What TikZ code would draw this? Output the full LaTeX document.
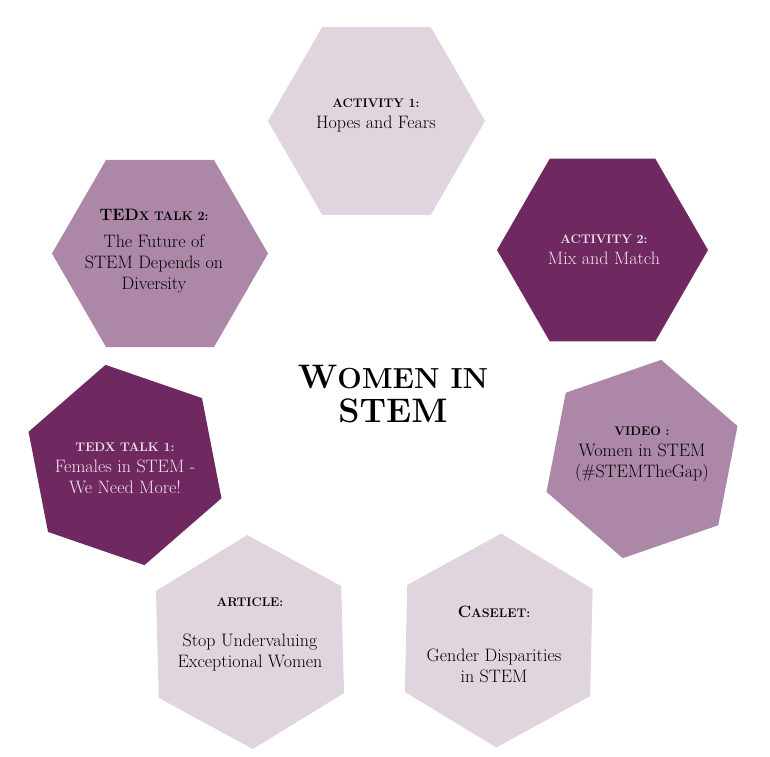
\documentclass[tikz,border=0pt]{standalone}
\usetikzlibrary{calc}
\definecolor{hexlight}{HTML}{E0D4DF}
\definecolor{hexmed}{HTML}{AD87A7}
\definecolor{hexdark}{HTML}{6F2960}
\definecolor{txtdark}{HTML}{000000}
\definecolor{txtlight}{HTML}{F0E4EF}
\newcommand\hexshape[4]{%
  \fill[#4] ($(#1)+(#3:#2pt)$)
    -- ($(#1)+(#3+60:#2pt)$) -- ($(#1)+(#3+120:#2pt)$)
    -- ($(#1)+(#3+180:#2pt)$) -- ($(#1)+(#3+240:#2pt)$)
    -- ($(#1)+(#3+300:#2pt)$) -- cycle;}
\newcommand\lab[1]{{\fontsize{12.5}{21}\selectfont\bfseries #1}}
\newcommand\labbig[1]{{\fontsize{16.5}{21}\selectfont\bfseries #1}}
\tikzset{
  lightfill/.style={fill=hexlight},
  medfill/.style={fill=hexmed},
  darkfill/.style={fill=hexdark},
  hextext/.style={align=center, font=\fontsize{18}{21}\selectfont, text=txtdark, inner sep=0pt},
  hextextlight/.style={hextext, text=txtlight},
  titletext/.style={align=center, inner sep=0pt, text=black, font=\bfseries\fontsize{34}{34}\selectfont}
}
\begin{document}
\begin{tikzpicture}[x=1pt,y=-1pt]
\useasboundingbox[fill=white] (0,0) rectangle (770,756);
\coordinate (h1) at (376.5,121);
\coordinate (h2) at (602.5,250);
\coordinate (h3) at (160,253.5);
\coordinate (h4) at (125,465);
\coordinate (h5) at (642,459);
\coordinate (h6) at (250,642);
\coordinate (h7) at (498.7,640.5);
\hexshape{h1}{108.5}{0}{lightfill}
\hexshape{h2}{105.5}{0}{darkfill}
\hexshape{h3}{108}{0}{medfill}
\hexshape{h4}{102}{-19}{darkfill}
\hexshape{h5}{101}{19}{medfill}
\hexshape{h6}{107}{31.5}{lightfill}
\hexshape{h7}{107}{28.7}{lightfill}

\node[hextext] (t1) at (376,115) {\lab{ACTIVITY 1:}\\Hopes and Fears};
\node[hextextlight] (t2) at (604,250) {\lab{ACTIVITY 2:}\\Mix and Match};
\node[hextext] (t3) at (154,251) {\labbig{TED}\lab{X TALK 2:}\\[6pt]The Future of\\STEM Depends on\\Diversity};
\node[hextextlight] (t4) at (125,468) {\lab{TEDX TALK 1:}\\Females in STEM -\\We Need More!};
\node[hextext] (t5) at (642,454) {\lab{VIDEO :}\\Women in STEM\\(\#STEMTheGap)};
\node[hextext] (t6) at (250,634) {\lab{ARTICLE:}\\[19pt]Stop Undervaluing\\Exceptional Women};
\node[hextext] (t7) at (494,644) {\labbig{C}\lab{ASELET:}\\[23pt]Gender Disparities\\in STEM};
\node[titletext] (title) at (393,394) {W{\fontsize{29}{34}\selectfont OMEN IN}\\STEM};
\end{tikzpicture}
\end{document}
